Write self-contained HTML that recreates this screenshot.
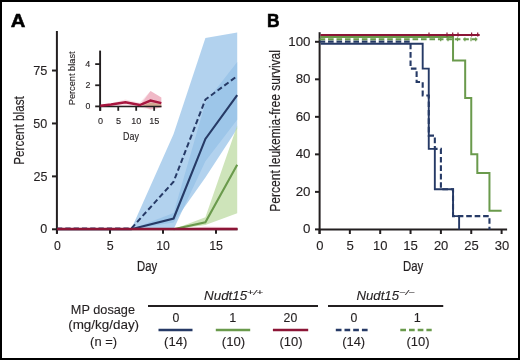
<!DOCTYPE html>
<html><head><meta charset="utf-8"><style>
html,body{margin:0;padding:0;background:#fff;}
.fig{position:relative;width:516px;height:356px;border:2px solid #000;background:#fff;overflow:hidden;}
svg{position:absolute;left:-2px;top:-2px;filter:blur(0.3px);}
text{font-family:"Liberation Sans", sans-serif;}
</style></head><body>
<div class="fig"><svg width="520" height="360" viewBox="0 0 520 360">
<polygon points="131.20,229.30 173.60,134.04 205.40,37.92 237.20,32.42 237.20,119.64 205.40,161.13 173.60,229.30 131.20,229.30" fill="#94c0e8" fill-opacity="0.72"/>
<polygon points="131.20,229.30 173.60,213.00 205.40,102.70 237.20,62.06 237.20,128.74 205.40,177.43 173.60,222.53 131.20,229.30" fill="#94c0e8" fill-opacity="0.72"/>
<polygon points="173.60,229.30 205.40,217.23 237.20,125.57 237.20,213.21 205.40,225.07 173.60,229.30" fill="#b9d89c" fill-opacity="0.7"/>
<polygon points="178.90,229.30 205.40,226.55 237.20,227.18 237.20,229.30 178.90,229.30" fill="#e27a96" fill-opacity="0.25"/>
<line x1="56.90" y1="31.00" x2="56.90" y2="233.80" stroke="#231f20" stroke-width="2" />
<line x1="52.00" y1="229.30" x2="57.00" y2="229.30" stroke="#231f20" stroke-width="2" />
<line x1="52.00" y1="176.38" x2="57.00" y2="176.38" stroke="#231f20" stroke-width="2" />
<line x1="52.00" y1="123.45" x2="57.00" y2="123.45" stroke="#231f20" stroke-width="2" />
<line x1="52.00" y1="70.53" x2="57.00" y2="70.53" stroke="#231f20" stroke-width="2" />
<line x1="57.00" y1="229.30" x2="57.00" y2="233.80" stroke="#231f20" stroke-width="2" />
<line x1="110.00" y1="229.30" x2="110.00" y2="233.80" stroke="#231f20" stroke-width="2" />
<line x1="163.00" y1="229.30" x2="163.00" y2="233.80" stroke="#231f20" stroke-width="2" />
<line x1="216.00" y1="229.30" x2="216.00" y2="233.80" stroke="#231f20" stroke-width="2" />
<line x1="56.00" y1="229.30" x2="237.50" y2="229.30" stroke="#231f20" stroke-width="2" />
<polyline points="57.00,228.60 131.20,228.60 173.60,181.67 205.40,99.53 237.20,76.03" fill="none" stroke="#263a66" stroke-width="2" stroke-linejoin="miter" stroke-dasharray="5.3,3"/>
<polyline points="57.00,229.30 131.20,229.30 173.60,218.50 205.40,138.90 237.20,95.08" fill="none" stroke="#263a66" stroke-width="2.1" stroke-linejoin="miter" />
<polyline points="173.60,229.30 205.40,222.31 237.20,164.73" fill="none" stroke="#6a9a4c" stroke-width="2.1" stroke-linejoin="miter" />
<line x1="57.00" y1="228.90" x2="237.50" y2="228.90" stroke="#8c1536" stroke-width="2.5" />
<text transform="translate(40.35,233.48)" font-size="12.57" fill="#231f20" style="" stroke="#231f20" stroke-width="0.120">0</text>
<text transform="translate(33.40,180.55)" font-size="12.57" fill="#231f20" style="" stroke="#231f20" stroke-width="0.120">25</text>
<text transform="translate(33.36,127.63)" font-size="12.57" fill="#231f20" style="" stroke="#231f20" stroke-width="0.120">50</text>
<text transform="translate(33.20,74.70)" font-size="12.76" fill="#231f20" style="" stroke="#231f20" stroke-width="0.120">75</text>
<text transform="translate(53.88,249.78)" font-size="12.29" fill="#231f20" style="" stroke="#231f20" stroke-width="0.120">0</text>
<text transform="translate(106.84,249.78)" font-size="12.47" fill="#231f20" style="" stroke="#231f20" stroke-width="0.120">5</text>
<text transform="translate(156.24,249.78)" font-size="12.29" fill="#231f20" style="" stroke="#231f20" stroke-width="0.120">10</text>
<text transform="translate(209.15,249.78)" font-size="12.47" fill="#231f20" style="" stroke="#231f20" stroke-width="0.120">15</text>
<text transform="translate(23.80,164.77) rotate(-90) scale(0.7853,1)" font-size="15.00" fill="#231f20" stroke="#231f20" stroke-width="0.180">Percent blast</text>
<text transform="translate(137.07,271.00) scale(0.7406,1)" font-size="15.30" fill="#231f20" style="" stroke="#231f20" stroke-width="0.220">Day</text>
<text transform="translate(10.70,26.50) scale(1.1157,1)" font-size="18.17" fill="#000" style="font-weight:bold;" stroke="#000" stroke-width="0.5">A</text>
<polygon points="100.30,105.87 111.07,103.23 125.43,99.53 139.79,102.70 150.56,91.07 161.33,97.42 161.33,107.46 150.56,109.57 139.79,107.46 125.43,106.40 100.30,106.40" fill="#e27a96" fill-opacity="0.22"/>
<polygon points="141.58,103.23 150.56,91.07 161.33,97.42 161.33,107.46 150.56,109.57 141.58,105.87" fill="#e27a96" fill-opacity="0.4"/>
<polygon points="143.38,105.34 150.56,102.38 161.33,104.29 161.33,106.40 143.38,106.40" fill="#b89a5e" fill-opacity="0.5"/>
<line x1="100.10" y1="50.60" x2="100.10" y2="110.80" stroke="#231f20" stroke-width="1.9" />
<line x1="95.20" y1="106.40" x2="100.10" y2="106.40" stroke="#231f20" stroke-width="1.8" />
<line x1="95.20" y1="85.26" x2="100.10" y2="85.26" stroke="#231f20" stroke-width="1.8" />
<line x1="95.20" y1="64.12" x2="100.10" y2="64.12" stroke="#231f20" stroke-width="1.8" />
<line x1="100.30" y1="106.40" x2="100.30" y2="110.80" stroke="#231f20" stroke-width="1.8" />
<line x1="118.25" y1="106.40" x2="118.25" y2="110.80" stroke="#231f20" stroke-width="1.8" />
<line x1="136.20" y1="106.40" x2="136.20" y2="110.80" stroke="#231f20" stroke-width="1.8" />
<line x1="154.15" y1="106.40" x2="154.15" y2="110.80" stroke="#231f20" stroke-width="1.8" />
<line x1="99.50" y1="106.50" x2="161.50" y2="106.50" stroke="#231f20" stroke-width="1.6" />
<polyline points="100.30,105.66 111.07,104.50 125.43,102.28 139.79,105.03 150.56,100.48 161.33,103.12" fill="none" stroke="#a8163f" stroke-width="2.5" stroke-linejoin="miter" />
<text transform="translate(85.57,109.11)" font-size="8.76" fill="#231f20" style="" stroke="#231f20" stroke-width="0.120">0</text>
<text transform="translate(85.61,88.06)" font-size="8.88" fill="#231f20" style="" stroke="#231f20" stroke-width="0.120">2</text>
<text transform="translate(85.35,66.92)" font-size="9.01" fill="#231f20" style="" stroke="#231f20" stroke-width="0.120">4</text>
<text transform="translate(98.09,123.71)" font-size="9.04" fill="#231f20" style="" stroke="#231f20" stroke-width="0.120">0</text>
<text transform="translate(116.01,123.71)" font-size="9.17" fill="#231f20" style="" stroke="#231f20" stroke-width="0.120">5</text>
<text transform="translate(131.30,123.71)" font-size="9.04" fill="#231f20" style="" stroke="#231f20" stroke-width="0.120">10</text>
<text transform="translate(149.19,123.71)" font-size="9.17" fill="#231f20" style="" stroke="#231f20" stroke-width="0.120">15</text>
<text transform="translate(75.10,105.26) rotate(-90) scale(1.0381,1)" font-size="8.90" fill="#231f20" stroke="#231f20" stroke-width="0.120">Percent blast</text>
<text transform="translate(123.07,139.70) scale(0.8408,1)" font-size="10.60" fill="#231f20" style="" stroke="#231f20" stroke-width="0.150">Day</text>
<line x1="319.60" y1="32.20" x2="319.60" y2="234.00" stroke="#231f20" stroke-width="2" />
<line x1="315.00" y1="229.40" x2="319.60" y2="229.40" stroke="#231f20" stroke-width="2" />
<line x1="315.00" y1="191.88" x2="319.60" y2="191.88" stroke="#231f20" stroke-width="2" />
<line x1="315.00" y1="154.36" x2="319.60" y2="154.36" stroke="#231f20" stroke-width="2" />
<line x1="315.00" y1="116.84" x2="319.60" y2="116.84" stroke="#231f20" stroke-width="2" />
<line x1="315.00" y1="79.32" x2="319.60" y2="79.32" stroke="#231f20" stroke-width="2" />
<line x1="315.00" y1="41.80" x2="319.60" y2="41.80" stroke="#231f20" stroke-width="2" />
<line x1="319.50" y1="229.40" x2="319.50" y2="234.00" stroke="#231f20" stroke-width="2" />
<line x1="349.85" y1="229.40" x2="349.85" y2="234.00" stroke="#231f20" stroke-width="2" />
<line x1="380.20" y1="229.40" x2="380.20" y2="234.00" stroke="#231f20" stroke-width="2" />
<line x1="410.55" y1="229.40" x2="410.55" y2="234.00" stroke="#231f20" stroke-width="2" />
<line x1="440.90" y1="229.40" x2="440.90" y2="234.00" stroke="#231f20" stroke-width="2" />
<line x1="471.25" y1="229.40" x2="471.25" y2="234.00" stroke="#231f20" stroke-width="2" />
<line x1="501.60" y1="229.40" x2="501.60" y2="234.00" stroke="#231f20" stroke-width="2" />
<line x1="319.00" y1="229.40" x2="507.10" y2="229.40" stroke="#231f20" stroke-width="2" />
<polyline points="320.50,43.70 422.69,43.70 422.69,68.63 428.76,68.63 428.76,148.92 434.83,148.92 434.83,189.25 453.04,189.25 453.04,216.08 459.11,216.08 459.11,229.40" fill="none" stroke="#263a66" stroke-width="1.9" stroke-linejoin="miter" />
<polyline points="319.60,41.60 410.55,41.60 410.55,68.63 416.62,68.63 416.62,81.95 422.69,81.95 422.69,95.45 428.76,95.45 428.76,135.60 434.83,135.60 434.83,148.92 440.90,148.92 440.90,189.25 453.04,189.25 453.04,216.08 489.46,216.08 489.46,229.40" fill="none" stroke="#263a66" stroke-width="2.1" stroke-linejoin="miter" stroke-dasharray="5.6,2.85"/>
<polyline points="320.50,37.10 453.04,37.10 453.04,60.56 465.18,60.56 465.18,98.08 471.25,98.08 471.25,154.36 477.32,154.36 477.32,173.12 489.46,173.12 489.46,210.64 501.60,210.64" fill="none" stroke="#6a9a4c" stroke-width="2" stroke-linejoin="miter" />
<line x1="319.60" y1="39.30" x2="479.00" y2="39.30" stroke="#6a9a4c" stroke-width="2" stroke-dasharray="5.6,2.85"/>
<line x1="320.50" y1="35.00" x2="479.70" y2="35.00" stroke="#8c1536" stroke-width="2.1" />
<line x1="429.00" y1="32.40" x2="429.00" y2="36.40" stroke="#8c1536" stroke-width="1.2" />
<line x1="447.00" y1="32.40" x2="447.00" y2="36.40" stroke="#8c1536" stroke-width="1.2" />
<line x1="452.70" y1="32.40" x2="452.70" y2="36.40" stroke="#8c1536" stroke-width="1.2" />
<line x1="458.00" y1="32.40" x2="458.00" y2="36.40" stroke="#8c1536" stroke-width="1.2" />
<line x1="471.60" y1="32.40" x2="471.60" y2="36.40" stroke="#8c1536" stroke-width="1.2" />
<line x1="477.70" y1="32.40" x2="477.70" y2="36.40" stroke="#8c1536" stroke-width="1.2" />
<line x1="440.70" y1="37.40" x2="440.70" y2="41.20" stroke="#6a9a4c" stroke-width="1.2" />
<line x1="448.00" y1="37.40" x2="448.00" y2="41.20" stroke="#6a9a4c" stroke-width="1.2" />
<line x1="457.50" y1="37.40" x2="457.50" y2="41.20" stroke="#6a9a4c" stroke-width="1.2" />
<line x1="464.90" y1="37.40" x2="464.90" y2="41.20" stroke="#6a9a4c" stroke-width="1.2" />
<line x1="471.00" y1="37.40" x2="471.00" y2="41.20" stroke="#6a9a4c" stroke-width="1.2" />
<line x1="475.70" y1="37.40" x2="475.70" y2="41.20" stroke="#6a9a4c" stroke-width="1.2" />
<text transform="translate(303.11,233.18) scale(1.0600,1)" font-size="12.57" fill="#231f20" style="" stroke="#231f20" stroke-width="0.120">0</text>
<text transform="translate(295.70,195.66) scale(1.0600,1)" font-size="12.57" fill="#231f20" style="" stroke="#231f20" stroke-width="0.120">20</text>
<text transform="translate(295.70,158.14) scale(1.0600,1)" font-size="12.57" fill="#231f20" style="" stroke="#231f20" stroke-width="0.120">40</text>
<text transform="translate(295.70,120.62) scale(1.0600,1)" font-size="12.57" fill="#231f20" style="" stroke="#231f20" stroke-width="0.120">60</text>
<text transform="translate(295.70,83.10) scale(1.0600,1)" font-size="12.57" fill="#231f20" style="" stroke="#231f20" stroke-width="0.120">80</text>
<text transform="translate(288.29,45.58) scale(1.0600,1)" font-size="12.57" fill="#231f20" style="" stroke="#231f20" stroke-width="0.120">100</text>
<text transform="translate(316.18,249.88) scale(1.0600,1)" font-size="12.29" fill="#231f20" style="" stroke="#231f20" stroke-width="0.120">0</text>
<text transform="translate(346.49,249.88) scale(1.0600,1)" font-size="12.47" fill="#231f20" style="" stroke="#231f20" stroke-width="0.120">5</text>
<text transform="translate(373.01,249.88) scale(1.0600,1)" font-size="12.29" fill="#231f20" style="" stroke="#231f20" stroke-width="0.120">10</text>
<text transform="translate(403.27,249.88) scale(1.0600,1)" font-size="12.47" fill="#231f20" style="" stroke="#231f20" stroke-width="0.120">15</text>
<text transform="translate(433.88,249.88) scale(1.0600,1)" font-size="12.29" fill="#231f20" style="" stroke="#231f20" stroke-width="0.120">20</text>
<text transform="translate(464.25,249.88) scale(1.0600,1)" font-size="12.29" fill="#231f20" style="" stroke="#231f20" stroke-width="0.120">25</text>
<text transform="translate(494.66,249.88) scale(1.0600,1)" font-size="12.29" fill="#231f20" style="" stroke="#231f20" stroke-width="0.120">30</text>
<text transform="translate(279.80,211.69) rotate(-90) scale(0.8025,1)" font-size="15.00" fill="#231f20" stroke="#231f20" stroke-width="0.180">Percent leukemia-free survival</text>
<text transform="translate(402.97,271.00) scale(0.7445,1)" font-size="15.30" fill="#231f20" style="" stroke="#231f20" stroke-width="0.220">Day</text>
<text transform="translate(266.94,26.60) scale(0.9342,1)" font-size="18.60" fill="#000" style="font-weight:bold;" stroke="#000" stroke-width="0.6">B</text>
<text transform="translate(70.86,314.30) scale(1.0105,1)" font-size="12.60" fill="#231f20" style="" stroke="#231f20" stroke-width="0.120">MP dosage</text>
<text transform="translate(68.17,329.20) scale(1.0754,1)" font-size="12.50" fill="#231f20" style="" stroke="#231f20" stroke-width="0.120">(mg/kg/day)</text>
<text transform="translate(90.10,346.00) scale(1.0368,1)" font-size="12.50" fill="#231f20" style="" stroke="#231f20" stroke-width="0.120">(n =)</text>
<line x1="148.00" y1="306.00" x2="318.00" y2="306.00" stroke="#231f20" stroke-width="2.1" />
<line x1="328.00" y1="306.00" x2="443.25" y2="306.00" stroke="#231f20" stroke-width="2.1" />
<text transform="translate(203.99,300.00) scale(1.1001,1)" font-size="12.20" fill="#231f20" style="font-style:italic;" stroke="#231f20" stroke-width="0.120">Nudt15</text>
<text transform="translate(246.89,295.20) scale(1.4743,1)" font-size="7.60" fill="#231f20" style="font-style:italic;" stroke="#231f20" stroke-width="0.120">+/+</text>
<text transform="translate(356.49,300.00) scale(1.0822,1)" font-size="12.20" fill="#231f20" style="font-style:italic;" stroke="#231f20" stroke-width="0.120">Nudt15</text>
<text transform="translate(399.20,295.00) scale(1.4352,1)" font-size="7.60" fill="#231f20" style="font-style:italic;" stroke="#231f20" stroke-width="0.120">−/−</text>
<text transform="translate(172.58,322.28)" font-size="12.29" fill="#231f20" style="" stroke="#231f20" stroke-width="0.120">0</text>
<text transform="translate(229.31,322.40)" font-size="12.65" fill="#231f20" style="" stroke="#231f20" stroke-width="0.120">1</text>
<text transform="translate(283.55,322.28)" font-size="12.29" fill="#231f20" style="" stroke="#231f20" stroke-width="0.120">20</text>
<text transform="translate(350.48,322.28)" font-size="12.29" fill="#231f20" style="" stroke="#231f20" stroke-width="0.120">0</text>
<text transform="translate(413.81,322.40)" font-size="12.65" fill="#231f20" style="" stroke="#231f20" stroke-width="0.120">1</text>
<text transform="translate(164.09,346.00) scale(1.0530,1)" font-size="12.40" fill="#231f20" style="" stroke="#231f20" stroke-width="0.120">(14)</text>
<text transform="translate(221.78,346.00) scale(1.0627,1)" font-size="12.40" fill="#231f20" style="" stroke="#231f20" stroke-width="0.120">(10)</text>
<text transform="translate(279.39,346.00) scale(1.0530,1)" font-size="12.40" fill="#231f20" style="" stroke="#231f20" stroke-width="0.120">(10)</text>
<text transform="translate(342.20,346.00) scale(1.0432,1)" font-size="12.40" fill="#231f20" style="" stroke="#231f20" stroke-width="0.120">(14)</text>
<text transform="translate(406.39,346.00) scale(1.0530,1)" font-size="12.40" fill="#231f20" style="" stroke="#231f20" stroke-width="0.120">(10)</text>
<line x1="158.50" y1="330.00" x2="192.50" y2="330.00" stroke="#263a66" stroke-width="2.3" />
<line x1="215.80" y1="330.00" x2="250.20" y2="330.00" stroke="#6a9a4c" stroke-width="2.3" />
<line x1="272.90" y1="330.00" x2="308.20" y2="330.00" stroke="#8c1536" stroke-width="2.3" />
<line x1="335.80" y1="330.00" x2="368.10" y2="330.00" stroke="#263a66" stroke-width="2.3" stroke-dasharray="5.7,3.0"/>
<line x1="400.30" y1="330.00" x2="431.70" y2="330.00" stroke="#6a9a4c" stroke-width="2.3" stroke-dasharray="5.7,3.0"/>
</svg></div>
</body></html>
